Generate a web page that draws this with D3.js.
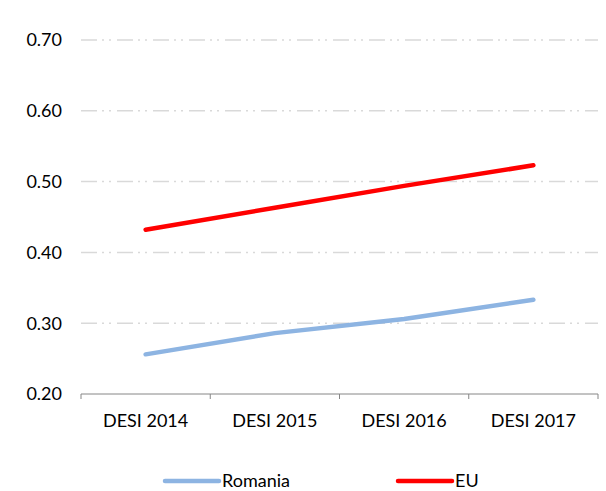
<!DOCTYPE html>
<html>
<head>
<meta charset="utf-8">
<script src="https://cdn.jsdelivr.net/npm/d3@7"></script>
<style>
    body { margin: 0; background: #fff; }
    text { font-family: Lato, "Open Sans", sans-serif; font-weight: 400; fill: #000; }
</style>
</head>
<body>
<div id="chart"></div>
<script>
const years = ["DESI 2014", "DESI 2015", "DESI 2016", "DESI 2017"];
const romania = [0.256, 0.286, 0.306, 0.333];
const eu = [0.432, 0.463, 0.494, 0.523];
const yTicks = [0.2, 0.3, 0.4, 0.5, 0.6, 0.7];

const width = 606;
const height = 491;
const margin = {top: 40, left: 81, right: 8, bottom: 94};

const svg = d3.select("#chart")
    .append("svg")
    .attr("width", width)
    .attr("height", height);

// scales
const xScale = d3.scaleBand()
    .domain(years)
    .range([margin.left, width - margin.right]);

const yScale = d3.scaleLinear()
    .domain([0.2, 0.7])
    .range([height - margin.bottom - 3, margin.top]);

// gridlines
svg.append("g")
    .selectAll("line")
    .data(yTicks.filter(d => d > 0.2))
    .enter()
    .append("line")
    .attr("x1", margin.left)
    .attr("x2", width - margin.right)
    .attr("y1", d => yScale(d))
    .attr("y2", d => yScale(d))
    .attr("stroke", "#d9d9d9")
    .attr("stroke-width", 1.5)
    .attr("stroke-dasharray", "16,5,2,5,2,6");

// y labels
svg.append("g")
    .selectAll("text")
    .data(yTicks)
    .enter()
    .append("text")
    .attr("x", 62)
    .attr("y", d => yScale(d))
    .attr("dy", "0.35em")
    .attr("text-anchor", "end")
    .style("font-size", "18px")
    .text(d => d.toFixed(2));

// x axis
const xaxis = svg.append("g")
    .attr("transform", `translate(0, ${yScale(0.2)})`);

xaxis.append("line")
    .attr("x1", margin.left)
    .attr("x2", width - margin.right)
    .attr("stroke", "#868686")
    .attr("stroke-width", 1);

xaxis.selectAll(".tick")
    .data(years.map(d => xScale(d)).concat([xScale(years[years.length - 1]) + xScale.bandwidth()]))
    .enter()
    .append("line")
    .attr("x1", d => d)
    .attr("x2", d => d)
    .attr("y1", 0)
    .attr("y2", 5)
    .attr("stroke", "#868686");

xaxis.selectAll(".xLabel")
    .data(years)
    .enter()
    .append("text")
    .attr("x", d => xScale(d) + xScale.bandwidth() / 2)
    .attr("y", 27)
    .attr("dy", "0.35em")
    .attr("text-anchor", "middle")
    .style("font-size", "18px")
    .text(d => d);

// lines
const line = d3.line()
    .x((d, i) => xScale(years[i]) + xScale.bandwidth() / 2)
    .y(d => yScale(d));

const series = [
    {name: "Romania", values: romania, color: "#8db4e2"},
    {name: "EU", values: eu, color: "#ff0000"}
];

svg.selectAll(".series")
    .data(series)
    .enter()
    .append("path")
    .attr("class", "series")
    .attr("d", d => line(d.values))
    .attr("fill", "none")
    .attr("stroke", d => d.color)
    .attr("stroke-width", 4.5)
    .attr("stroke-linecap", "round")
    .attr("stroke-linejoin", "round");

// legend
const legendX = [165, 398];
const legend = svg.selectAll(".legend")
    .data(series)
    .enter()
    .append("g")
    .attr("class", "legend")
    .attr("transform", (d, i) => `translate(${legendX[i]}, 481)`);

legend.append("line")
    .attr("x1", 0)
    .attr("x2", 54)
    .attr("stroke", d => d.color)
    .attr("stroke-width", 4.5)
    .attr("stroke-linecap", "round");

legend.append("text")
    .attr("x", 57)
    .attr("dy", "0.35em")
    .style("font-size", "18px")
    .text(d => d.name);
</script>
</body>
</html>
